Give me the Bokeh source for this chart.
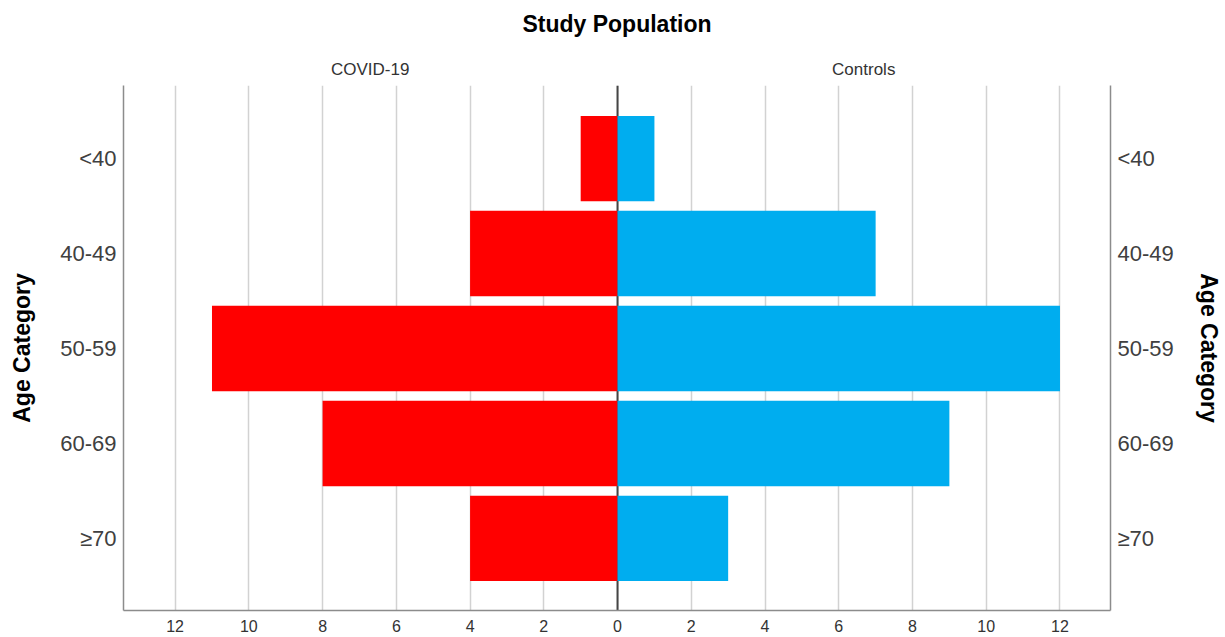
from bokeh.plotting import figure
from bokeh.models import Range1d, FixedTicker, LinearAxis, Span
from bokeh.embed import file_html
from bokeh.resources import INLINE

# ---- data ----
categories = ["<40", "40-49", "50-59", "60-69", "\u226570"]
covid = [1, 4, 11, 8, 4]
controls = [1, 7, 12, 9, 3]
x_ticks = [-12, -10, -8, -6, -4, -2, 0, 2, 4, 6, 8, 10, 12]
title_text = "Study Population"
groups = ["COVID-19", "Controls"]
group_pos = [0.5, 1.5]
axis_title = "Age Category"

FONT = "Liberation Sans"
X0, X1 = -13.4, 13.37
Y_BOTTOM, Y_TOP = 4.76, -0.77

p = figure(width=1225, height=637, output_backend="svg", toolbar_location=None,
           x_range=Range1d(X0, X1), y_range=Range1d(Y_BOTTOM, Y_TOP),
           min_border_left=123, min_border_right=115, min_border_top=85,
           min_border_bottom=27)
p.outline_line_color = None
p.background_fill_color = "white"
p.border_fill_color = "white"
p.extra_x_ranges = {"halves": Range1d(0, 2)}

ypos = list(range(len(categories)))
left_vals = [-v for v in covid]
zeros = [0] * len(categories)

p.hbar(y=ypos, left=left_vals, right=zeros, height=0.9,
       fill_color="#FF0000", line_color=None)
p.hbar(y=ypos, left=zeros, right=controls, height=0.9,
       fill_color="#00ADEF", line_color=None)

# center line (under bars)
p.add_layout(Span(location=0, dimension="height", line_color="#454545",
                  line_width=2, level="underlay"))

# x axis
xa = p.xaxis[0]
xa.ticker = FixedTicker(ticks=x_ticks)
xa.major_label_overrides = {t: str(abs(t)) for t in x_ticks}
xa.major_tick_line_color = None
xa.minor_tick_line_color = None
xa.major_tick_out = 0
xa.major_tick_in = 0
xa.major_label_standoff = 9
xa.axis_line_color = "#8c8c8c"
xa.axis_line_width = 1.5
xa.major_label_text_font = FONT
xa.major_label_text_font_size = "16px"
xa.major_label_text_color = "#333333"

p.xgrid.ticker = FixedTicker(ticks=x_ticks)
p.xgrid.grid_line_color = "#d2d2d2"
p.xgrid.grid_line_width = 1.5
p.ygrid.grid_line_color = None

# top axis: group headings + chart title
ta = LinearAxis(x_range_name="halves")
ta.ticker = FixedTicker(ticks=group_pos)
ta.major_label_overrides = {g: t for g, t in zip(group_pos, groups)}
ta.major_tick_line_color = None
ta.minor_tick_line_color = None
ta.major_tick_out = 0
ta.major_tick_in = 0
ta.axis_line_color = None
ta.major_label_standoff = 7
ta.major_label_text_font = FONT
ta.major_label_text_font_size = "17px"
ta.major_label_text_color = "#333333"
ta.axis_label = title_text
ta.axis_label_text_font = FONT
ta.axis_label_text_font_size = "23px"
ta.axis_label_text_font_style = "bold"
ta.axis_label_text_color = "#000000"
ta.axis_label_standoff = 20
p.add_layout(ta, "above")

overrides = {i: c for i, c in enumerate(categories)}


def style_y(ax, label_standoff):
    ax.ticker = FixedTicker(ticks=ypos)
    ax.major_label_overrides = overrides
    ax.major_tick_line_color = None
    ax.minor_tick_line_color = None
    ax.major_tick_out = 0
    ax.major_tick_in = 0
    ax.major_label_standoff = 7
    ax.axis_line_color = "#8c8c8c"
    ax.axis_line_width = 1.5
    ax.major_label_text_font = FONT
    ax.major_label_text_font_size = "22px"
    ax.major_label_text_color = "#404040"
    ax.axis_label = axis_title
    ax.axis_label_text_font = FONT
    ax.axis_label_text_font_size = "23px"
    ax.axis_label_text_font_style = "bold"
    ax.axis_label_text_color = "#000000"
    ax.axis_label_standoff = label_standoff


style_y(p.yaxis[0], 22)
ra = LinearAxis()
style_y(ra, 19)
p.add_layout(ra, "right")

open("out.html", "w").write(file_html(p, INLINE))
